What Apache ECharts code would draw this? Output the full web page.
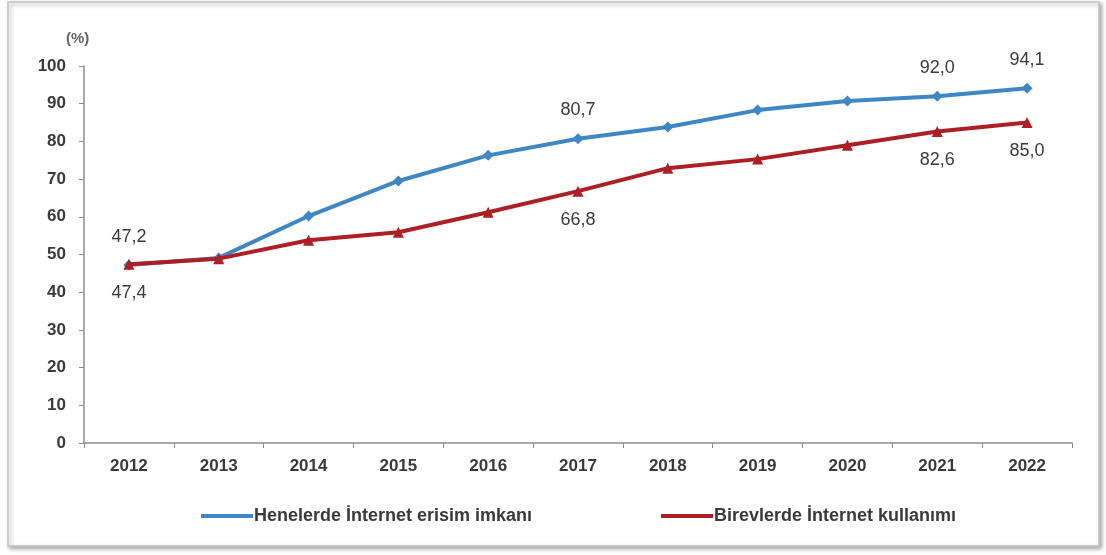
<!DOCTYPE html>
<html>
<head>
<meta charset="utf-8">
<script src="https://cdn.jsdelivr.net/npm/echarts@6/dist/echarts.min.js"></script>
<style>
html,body{margin:0;padding:0;background:#fff;}
#c{width:1106px;height:555px;}
</style>
</head>
<body>
<div id="c"></div>
<script>
var years = ['2012','2013','2014','2015','2016','2017','2018','2019','2020','2021','2022'];
var householdAccess = [47.2, 49.1, 60.2, 69.5, 76.3, 80.7, 83.8, 88.3, 90.7, 92.0, 94.1];
var individualUse = [47.4, 48.9, 53.8, 55.9, 61.2, 66.8, 72.9, 75.3, 79.0, 82.6, 85.0];
var labeledYears = ['2012','2017','2021','2022'];
var seriesNames = ['Henelerde İnternet erisim imkanı', 'Birevlerde İnternet kullanımı'];

function fmt(v){ return v.toFixed(1).replace('.', ','); }
function build(values, pos){
  return values.map(function(v, i){
    var show = labeledYears.indexOf(years[i]) >= 0;
    return { value: v, label: { show: show, position: pos, distance: 14 } };
  });
}

var chart = echarts.init(document.getElementById('c'));
var textColor = '#3a3a3a';
chart.setOption({
  animation: false,
  backgroundColor: '#fff',
  textStyle: { fontFamily: 'Liberation Sans, Arial, sans-serif' },
  graphic: [
    { type: 'rect', shape: { x: 8, y: 2, width: 1091, height: 544 },
      style: { fill: '#fff', stroke: '#c4c4c4', lineWidth: 1.5, shadowBlur: 4, shadowColor: 'rgba(0,0,0,0.35)', shadowOffsetX: 2, shadowOffsetY: 2 }, z: -10 },
    { type: 'text', left: 66, top: 31, style: { text: '(%)', fontSize: 15, fill: '#666', fontWeight: 'bold', fontFamily: 'Liberation Sans, Arial, sans-serif' } }
  ],
  grid: { left: 84, right: 34, top: 66, bottom: 112, containLabel: false },
  legend: [
    { data: [seriesNames[0]], left: 196, top: 502, itemWidth: 52, itemHeight: 4, icon: 'rect',
      textStyle: { fontSize: 18, color: textColor, fontWeight: 'bold', padding: [0,0,0,-4] } },
    { data: [seriesNames[1]], left: 656, top: 502, itemWidth: 52, itemHeight: 4, icon: 'rect',
      textStyle: { fontSize: 18, color: textColor, fontWeight: 'bold', padding: [0,0,0,-4] } }
  ],
  xAxis: {
    type: 'category', data: years, boundaryGap: true,
    axisLine: { lineStyle: { color: '#8c8c8c', width: 1.5 } },
    axisTick: { show: true, length: 5, lineStyle: { color: '#8c8c8c' } },
    axisLabel: { fontSize: 17, fontWeight: 'bold', color: textColor, margin: 15 }
  },
  yAxis: {
    type: 'value', min: 0, max: 100, interval: 10,
    axisLine: { show: true, lineStyle: { color: '#8c8c8c', width: 1.5 } },
    axisTick: { show: true, length: 5, lineStyle: { color: '#8c8c8c' } },
    splitLine: { show: false },
    axisLabel: { fontSize: 17, fontWeight: 'bold', color: textColor, margin: 18 }
  },
  series: [
    { name: seriesNames[0], type: 'line', data: build(householdAccess, 'top'),
      symbol: 'diamond', symbolSize: 11, color: '#3d87c6',
      lineStyle: { width: 4, color: '#3d87c6' }, itemStyle: { color: '#3d87c6' },
      label: { fontSize: 18, color: textColor, formatter: function(p){ return fmt(p.value); } }, z: 3 },
    { name: seriesNames[1], type: 'line', data: build(individualUse, 'bottom'),
      symbol: 'triangle', symbolSize: 11, color: '#ad1f24',
      lineStyle: { width: 4, color: '#ad1f24' }, itemStyle: { color: '#ad1f24' },
      label: { fontSize: 18, color: textColor, formatter: function(p){ return fmt(p.value); } }, z: 4 }
  ]
});
</script>
</body>
</html>
